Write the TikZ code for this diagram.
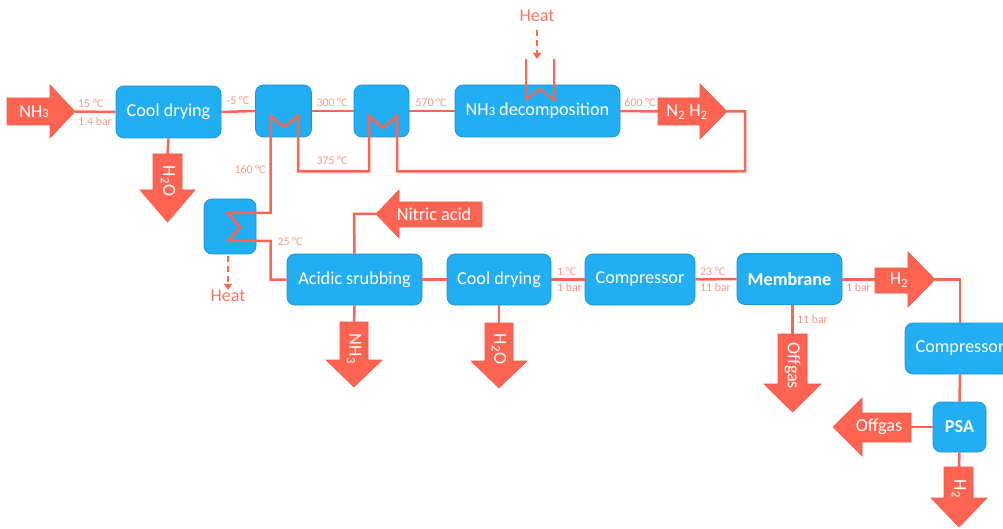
\documentclass[tikz,border=0pt]{standalone}
\usepackage{fontspec}
\setmainfont{Carlito}
\usetikzlibrary{arrows.meta}
\definecolor{boxblue}{RGB}{34,174,242}
\definecolor{boxedge}{RGB}{28,150,212}
\definecolor{salmon}{RGB}{255,100,82}
\definecolor{salmonedge}{RGB}{240,88,70}
\definecolor{lblc}{RGB}{249,150,135}
\definecolor{heatc}{RGB}{250,118,100}
\newcommand{\smallthree}{{\fontsize{12.5}{12.5}\selectfont 3}}
\tikzset{
  procbox/.style={draw=boxedge, line width=0.8pt, fill=boxblue, rounded corners=8pt,
    text=white, font=\fontsize{18.2}{21}\selectfont, inner sep=0pt},
  pipe/.style={draw=salmon, line width=2.5pt},
  blockarrow/.style={fill=salmon, draw=salmonedge, line width=0.6pt},
  arrowtext/.style={text=white, font=\fontsize{18.2}{21}\selectfont, inner sep=0pt},
  lab/.style={text=lblc, font=\fontsize{11.8}{12}\selectfont, inner sep=0pt},
  heattext/.style={text=heatc, font=\fontsize{18}{21}\selectfont, inner sep=0pt},
  heatarrow/.style={draw=salmon, line width=2pt, dash pattern=on 6pt off 4pt,
    -{Triangle[length=6pt,width=8pt]}}
}
\begin{document}
\begin{tikzpicture}[x=1pt,y=-1pt]
\useasboundingbox (0,0) rectangle (1003,529);

% ---------- block arrows ----------
\fill[blockarrow] (7,98)--(50,98)--(50,85)--(75,111.5)--(50,138)--(50,125)--(7,125)--cycle;
\coordinate (nh3tip) at (75,111.5);
\node[arrowtext] (nh3in) at (34,112) {NH\smallthree};

\fill[blockarrow] (153,154)--(182,154)--(182,190)--(195,190)--(167.5,222)--(140,190)--(153,190)--cycle;
\coordinate (w1top) at (167.5,154);
\node[arrowtext, rotate=-90] (w1) at (168,181) {H\textsubscript{2}O};

\fill[blockarrow] (658,98)--(700,98)--(700,84)--(727,111.5)--(700,139)--(700,125)--(658,125)--cycle;
\coordinate (nhbase) at (658,111.5);
\coordinate (nhtip) at (727,111.5);
\node[arrowtext] (n2h2) at (687,112) {N\textsubscript{2} H\textsubscript{2}};

\fill[blockarrow] (482,202)--(399,202)--(399,190)--(376,214)--(399,238)--(399,227)--(482,227)--cycle;
\coordinate (nattip) at (376,214);
\node[arrowtext] (nitric) at (434,214) {Nitric acid};

\fill[blockarrow] (340,322)--(368,322)--(368,360)--(382,360)--(354,387)--(326,360)--(340,360)--cycle;
\coordinate (a1top) at (354,322);
\node[arrowtext, rotate=-90] (a1) at (354,349) {NH\textsubscript{3}};

\fill[blockarrow] (485,323)--(513,323)--(513,361)--(527,361)--(499,388)--(471,361)--(485,361)--cycle;
\coordinate (w2top) at (499,323);
\node[arrowtext, rotate=-90] (w2) at (499,349) {H\textsubscript{2}O};

\fill[blockarrow] (778,334)--(807,334)--(807,384)--(821,384)--(792.5,412)--(764,384)--(778,384)--cycle;
\coordinate (o1top) at (792.5,334);
\node[arrowtext, rotate=-90] (o1) at (792.5,366) {Offgas};

\fill[blockarrow] (875,268)--(908,268)--(908,252)--(935,279.5)--(908,307)--(908,293)--(875,293)--cycle;
\coordinate (h2base) at (875,279.5);
\coordinate (h2tip) at (935,279.5);
\node[arrowtext] (h2a) at (899,280) {H\textsubscript{2}};

\fill[blockarrow] (911,413)--(862,413)--(862,398)--(833,427)--(862,456)--(862,442)--(911,442)--cycle;
\coordinate (o2base) at (911,427);
\node[arrowtext] (o2) at (879,427) {Offgas};

\fill[blockarrow] (944,467)--(973,467)--(973,498)--(987,498)--(959,527)--(931,498)--(944,498)--cycle;
\coordinate (h2dtop) at (959,467);
\node[arrowtext, rotate=-90] (h2d) at (959,489) {H\textsubscript{2}};

% ---------- process boxes ----------
\node[procbox, minimum width=105pt, minimum height=52pt] (cd1) at (168.5,112) {Cool drying};
\node[procbox, minimum width=56pt, minimum height=52pt] (hx1) at (283.5,111) {};
\node[procbox, minimum width=55pt, minimum height=52pt] (hx2) at (381.5,111) {};
\node[procbox, minimum width=165pt, minimum height=52pt] (dec) at (537.5,111) {NH\smallthree{} decomposition};
\node[procbox, minimum width=52pt, minimum height=55pt] (hx3) at (230,226.5) {};
\node[procbox, minimum width=135pt, minimum height=51pt] (acid) at (354.5,279.5) {Acidic srubbing};
\node[procbox, minimum width=104pt, minimum height=51pt] (cd2) at (499,279.5) {Cool drying};
\node[procbox, minimum width=110pt, minimum height=51pt] (comp1) at (640,279.5) {Compressor};
\node[procbox, minimum width=105pt, minimum height=51pt, font=\fontsize{18.2}{21}\selectfont\bfseries] (mem) at (789.5,279) {Membrane};
\node[procbox, minimum width=110pt, minimum height=51pt] (comp2) at (960,348.5) {Compressor};
\node[procbox, minimum width=53pt, minimum height=50pt, font=\fontsize{18.2}{21}\selectfont\bfseries] (psa) at (959.5,427) {PSA};

% ---------- pipes ----------
\draw[pipe] (nh3tip) -- (cd1.west);
\draw[pipe] (cd1.south) -- (w1top);
\draw[pipe] (cd1.east) -- (hx1.west);
\draw[pipe] (hx1.east) -- (hx2.west);
\draw[pipe] (hx2.east) -- (dec.west);
\draw[pipe] (dec.east) -- (nhbase);
\draw[pipe] (nhtip) -- (745,111.5) -- (745,171.5) -- (397,171.5) -- (397,116) -- (383,128) -- (369,116)
  -- (369,171.5) -- (298,171.5) -- (298,116) -- (284,127) -- (270.5,116) -- (270.5,213)
  -- (228,213) -- (240,227) -- (228,241) -- (270.5,241) -- (270.5,279.5) -- (acid.west);
\draw[pipe] (nattip) -- (354,214) -- (acid.north);
\draw[pipe] (acid.south) -- (a1top);
\draw[pipe] (acid.east) -- (cd2.west);
\draw[pipe] (cd2.south) -- (w2top);
\draw[pipe] (cd2.east) -- (comp1.west);
\draw[pipe] (comp1.east) -- (mem.west);
\draw[pipe] (mem.east |- h2base) -- (h2base);
\draw[pipe] (o1top |- mem.south) -- (o1top);
\draw[pipe] (h2tip) -| (comp2.north);
\draw[pipe] (comp2.south) -- (psa.north);
\draw[pipe] (psa.west) -- (o2base);
\draw[pipe] (psa.south) -- (h2dtop);

% heat element in the decomposition reactor
\draw[pipe, line width=2pt] (526,59) -- (526,100) -- (540,89) -- (554,100) -- (554,59);

% ---------- heat ----------
\node[heattext] (heattop) at (537,16) {Heat};
\coordinate (ht1) at (537,30);
\coordinate (ht2) at (537,59);
\draw[heatarrow] (ht1) -- (ht2);
\node[heattext] (heatbot) at (228,296) {Heat};
\coordinate (hb1) at (228,256);
\draw[heatarrow] (hb1) -- (heatbot.north);

% ---------- labels ----------
\node[lab, anchor=west] (l1) at (78,104) {15 °C};
\node[lab, anchor=west] (l2) at (78,121) {1.4 bar};
\node[lab] (l3) at (238,101) {-5 °C};
\node[lab] (l4) at (332,103) {300 °C};
\node[lab] (l5) at (431,103) {570 °C};
\node[lab] (l6) at (332,161) {375 °C};
\node[lab] (l7) at (250,170) {160 °C};
\node[lab] (l8) at (640,103) {600 °C};
\node[lab] (l9) at (290,242) {25 °C};
\node[lab, anchor=west] (l10) at (557,272) {1 °C};
\node[lab, anchor=west] (l11) at (557,287) {1 bar};
\node[lab, anchor=west] (l12) at (700,272) {23 °C};
\node[lab, anchor=west] (l13) at (700,287) {11 bar};
\node[lab, anchor=west] (l14) at (846,287) {1 bar};
\node[lab, anchor=west] (l15) at (797,319) {11 bar};
\end{tikzpicture}
\end{document}
